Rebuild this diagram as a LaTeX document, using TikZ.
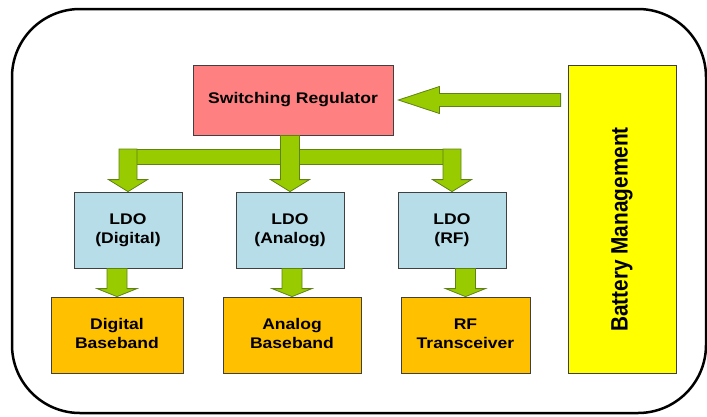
\documentclass[tikz,border=0pt]{standalone}
\usepackage{fontspec}
\setmainfont{Liberation Sans}
\usepackage{graphicx}
\usetikzlibrary{calc,positioning}

\definecolor{regpink}{RGB}{255,128,128}
\definecolor{ldoblue}{RGB}{183,221,232}
\definecolor{loadgold}{RGB}{255,192,0}
\definecolor{batyellow}{RGB}{255,255,0}
\definecolor{arrowgreen}{RGB}{153,204,0}
\definecolor{arrowedge}{RGB}{95,130,20}

\tikzset{
  block/.style={rectangle, draw=black!75, line width=0.8pt, inner sep=0pt,
    font=\fontsize{15.4}{19}\selectfont\bfseries},
  ldo/.style={block, fill=ldoblue, minimum width=108pt, minimum height=76pt},
  load/.style={block, fill=loadgold, minimum height=76pt},
  fatarrow/.style={fill=arrowgreen, draw=arrowedge, line width=0.8pt, line join=miter},
  frame/.style={draw=black, line width=2.5pt, rounded corners=68pt}
}

\newcommand{\wide}[1]{\scalebox{1.14}[1]{\begin{tabular}{@{}c@{}}#1\end{tabular}}}

% block arrow down: start, end, half shaft, half head, head length
\newcommand{\arrowdown}[5]{%
  \filldraw[fatarrow] let \p1=(#1), \p2=(#2) in
    (\x1-#3pt,\y1) -- (\x1+#3pt,\y1) -- (\x1+#3pt,\y2+#5pt) -- (\x1+#4pt,\y2+#5pt)
    -- (\x1,\y2) -- (\x1-#4pt,\y2+#5pt) -- (\x1-#3pt,\y2+#5pt) -- cycle;}

% block arrow left: start, end, half shaft, half head, head length
\newcommand{\arrowleft}[5]{%
  \filldraw[fatarrow] let \p1=(#1), \p2=(#2) in
    (\x1,\y1+#3pt) -- (\x2+#5pt,\y1+#3pt) -- (\x2+#5pt,\y1+#4pt) -- (\x2,\y1)
    -- (\x2+#5pt,\y1-#4pt) -- (\x2+#5pt,\y1-#3pt) -- (\x1,\y1-#3pt) -- cycle;}

\begin{document}
\begin{tikzpicture}[x=1pt, y=-1pt]
  \useasboundingbox (0,0) rectangle (707,416);
  \draw[frame] (12,9) rectangle (706,413);

  % Nodes
  \node[block, fill=regpink, minimum width=200pt, minimum height=70pt] (reg) at (293,100) {\wide{Switching Regulator}};
  \node[block, fill=batyellow, minimum width=108pt, minimum height=308pt,
    font=\fontsize{20.8}{25}\selectfont\bfseries] (bat) at (622,219) {\rotatebox{90}{\scalebox{1}[1.14]{Battery Management}\hspace{21pt}}};

  \node[ldo] (ldoD) at (128,230) {\wide{LDO\\(Digital)}};
  \node[ldo] (ldoA) at (290,230) {\wide{LDO\\(Analog)}};
  \node[ldo] (ldoR) at (452,230) {\wide{LDO\\(RF)}};

  \node[load, minimum width=132pt] (dbb) at (117,335) {\wide{Digital\\Baseband}};
  \node[load, minimum width=138pt] (abb) at (292,335) {\wide{Analog\\Baseband}};
  \node[load, minimum width=129pt] (rft) at (465.5,335) {\wide{RF\\Transceiver}};

  % Arrows
  \arrowleft{$(bat.west |- reg.east)+(-7,0)$}{$(reg.east)+(5,0)$}{6.5}{13.5}{41}

  \coordinate (busT) at (0,149);
  \coordinate (busB) at (0,164);
  \filldraw[fatarrow] (ldoD.north |- busT) rectangle (ldoR.north |- busB);
  \arrowdown{ldoD.north |- busT}{ldoD.north}{9}{19.5}{12}
  \arrowdown{ldoA.north |- reg.south}{ldoA.north}{9.5}{19.5}{12}
  \arrowdown{ldoR.north |- busT}{ldoR.north}{9}{19.5}{12}

  \arrowdown{dbb.north |- ldoD.south}{dbb.north}{10}{20}{8}
  \arrowdown{abb.north |- ldoA.south}{abb.north}{10}{20}{8}
  \arrowdown{rft.north |- ldoR.south}{rft.north}{10}{20}{8}

\end{tikzpicture}
\end{document}
